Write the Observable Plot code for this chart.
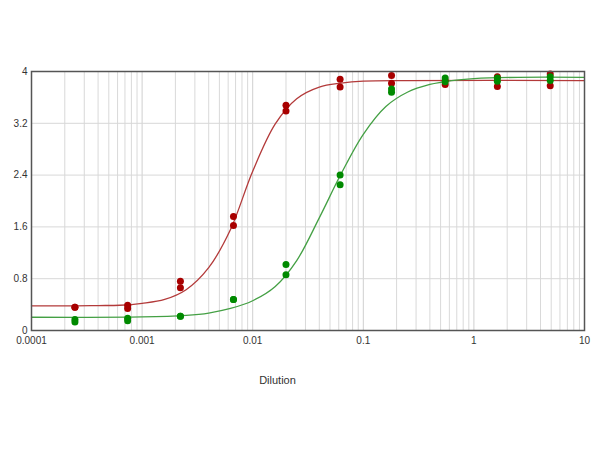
<!DOCTYPE html>
<html>
<head>
<meta charset="utf-8">
<script src="https://cdn.jsdelivr.net/npm/d3@7"></script>
<script src="https://cdn.jsdelivr.net/npm/@observablehq/plot@0.6"></script>
<style>
  html, body { margin: 0; padding: 0; background: #fff; }
</style>
</head>
<body>
<div id="chart"></div>
<script>
// Dilution series (x) and replicate readings
const dilutions = [0.000247, 0.00074, 0.00222, 0.0067, 0.02, 0.0617, 0.18, 0.55, 1.63, 4.9];
const redRep1   = [0.36, 0.39, 0.76, 1.76, 3.48, 3.88, 3.94, 3.86, 3.92, 3.96];
const redRep2   = [0.36, 0.34, 0.66, 1.62, 3.39, 3.76, 3.82, 3.80, 3.77, 3.78];
const greenRep1 = [0.17, 0.19, 0.22, 0.48, 1.02, 2.40, 3.73, 3.90, 3.90, 3.92];
const greenRep2 = [0.13, 0.15, 0.22, 0.48, 0.86, 2.25, 3.68, 3.84, 3.85, 3.86];

// Fitted curves
const redCurveX   = [0.0001, 0.00025, 0.0004, 0.00063, 0.001, 0.0016, 0.0025, 0.004, 0.0063, 0.01, 0.016, 0.025, 0.04, 0.063, 0.1, 0.25, 10];
const redCurveY   = [0.38, 0.38, 0.385, 0.39, 0.42, 0.48, 0.63, 0.97, 1.56, 2.46, 3.19, 3.58, 3.76, 3.82, 3.85, 3.86, 3.86];
const greenCurveX = [0.0001, 0.001, 0.0025, 0.004, 0.0063, 0.01, 0.016, 0.025, 0.04, 0.063, 0.1, 0.16, 0.25, 0.4, 0.63, 1, 2.5, 10];
const greenCurveY = [0.205, 0.21, 0.235, 0.27, 0.34, 0.46, 0.68, 1.08, 1.74, 2.42, 3.03, 3.46, 3.68, 3.80, 3.86, 3.89, 3.91, 3.91];

// Ticks
const xTicks = [0.0001, 0.001, 0.01, 0.1, 1, 10];
const xTickLabels = ["0.0001", "0.001", "0.01", "0.1", "1", "10"];
const yTicks = [0, 0.8, 1.6, 2.4, 3.2, 4];
const yTickLabels = ["0", "0.8", "1.6", "2.4", "3.2", "4"];
const xMinorGrid = [];
for (let e = -4; e < 1; e++) for (let m = 2; m <= 9; m++) xMinorGrid.push(m * Math.pow(10, e));

const pts = (ys, series) => dilutions.map((x, i) => ({x, y: ys[i], series}));
const redPts = [...pts(redRep1, "red"), ...pts(redRep2, "red")];
const greenPts = [...pts(greenRep1, "green"), ...pts(greenRep2, "green")];
const redCurve = redCurveX.map((x, i) => ({x, y: redCurveY[i]}));
const greenCurve = greenCurveX.map((x, i) => ({x, y: greenCurveY[i]}));
const xTickData = xTicks.map((x, i) => ({x, label: xTickLabels[i]}));
const yTickData = yTicks.map((y, i) => ({y, label: yTickLabels[i]}));

const chart = Plot.plot({
  width: 600,
  height: 450,
  marginLeft: 31,
  marginRight: 16,
  marginTop: 71,
  marginBottom: 120,
  x: {type: "log", domain: [0.0001, 10], axis: null},
  y: {domain: [0, 4], axis: null},
  style: {fontFamily: "'Liberation Sans', Arial, sans-serif", fontSize: "10px", color: "#333", background: "#fff"},
  marks: [
    Plot.gridX(xMinorGrid, {stroke: "#d9d9d9", strokeOpacity: 1, strokeWidth: 1}),
    Plot.gridX(xTicks, {stroke: "#cfcfcf", strokeOpacity: 1, strokeWidth: 1}),
    Plot.gridY(yTicks, {stroke: "#d8d8d8", strokeOpacity: 1, strokeWidth: 1}),
    Plot.line(redCurve, {x: "x", y: "y", stroke: "#b33a3a", strokeWidth: 1.3, curve: "catmull-rom"}),
    Plot.line(greenCurve, {x: "x", y: "y", stroke: "#44a044", strokeWidth: 1.3, curve: "catmull-rom"}),
    Plot.dot(redPts, {x: "x", y: "y", r: 3.5, fill: "#a80000", stroke: "none"}),
    Plot.dot(greenPts, {x: "x", y: "y", r: 3.5, fill: "#008a00", stroke: "none"}),
    Plot.frame({stroke: "#555", strokeWidth: 1.5}),
    Plot.text(xTickData, {x: "x", text: "label", frameAnchor: "bottom", dy: 10, lineAnchor: "middle", textAnchor: "middle", fill: "#333"}),
    Plot.text(yTickData, {y: "y", text: "label", frameAnchor: "left", dx: -4, textAnchor: "end", lineAnchor: "middle", fill: "#333"}),
    Plot.text(["Dilution"], {frameAnchor: "bottom-left", dx: 246, dy: 50, textAnchor: "middle", lineAnchor: "middle", fontSize: 11, fill: "#333"})
  ]
});
document.getElementById("chart").appendChild(chart);
</script>
</body>
</html>
